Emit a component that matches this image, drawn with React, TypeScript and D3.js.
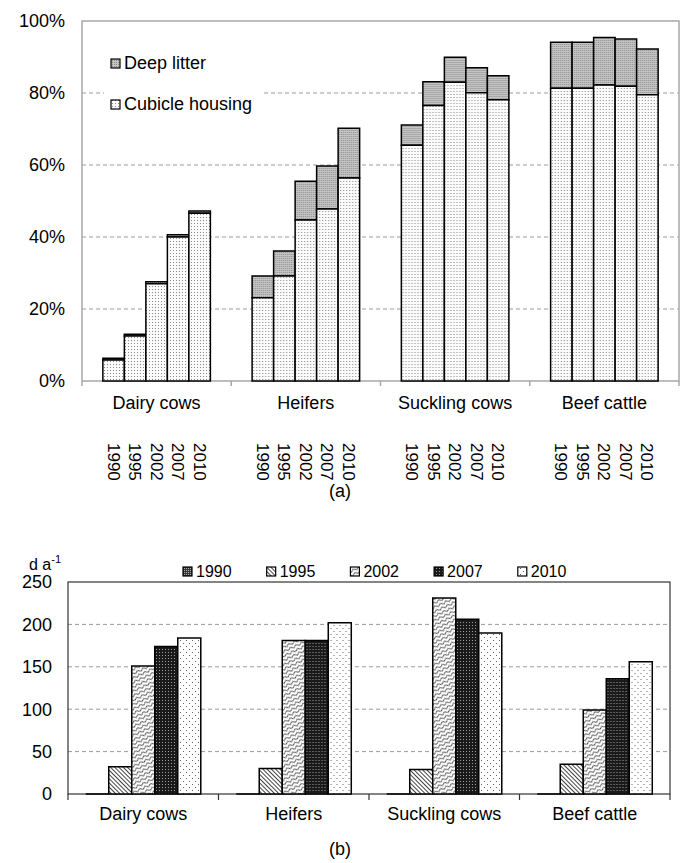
import { useEffect, useRef } from 'react';
import * as d3 from 'd3';

// categories and years shared by both panels
const categories = ['Dairy cows', 'Heifers', 'Suckling cows', 'Beef cattle'];
const years = ['1990', '1995', '2002', '2007', '2010'];

// (a) share of animals, % (rows = categories, cols = years)
const cubicleShare = [
  [5.8, 12.5, 27.0, 40.0, 46.6],
  [23.1, 29.2, 44.7, 47.8, 56.4],
  [65.5, 76.5, 83.0, 80.1, 78.1],
  [81.3, 81.3, 82.2, 81.9, 79.5],
];
const deepLitterShare = [
  [0.5, 0.5, 0.6, 0.6, 0.6],
  [6.1, 6.9, 10.8, 11.9, 13.8],
  [5.6, 6.6, 6.9, 6.9, 6.7],
  [12.8, 12.8, 13.2, 13.1, 12.7],
];
const pctTicks = [0, 20, 40, 60, 80, 100];

// (b) days per year
const grazingDays = [
  [0, 32, 151, 174, 184],
  [0, 30, 181, 181, 202],
  [0, 29, 231, 206, 190],
  [0, 35, 99, 136, 156],
];
const dayTicks = [0, 50, 100, 150, 200, 250];

const FONT = '"Liberation Sans", Arial, sans-serif';
const yearFill = ['url(#p1990)', 'url(#p1995)', 'url(#p2002)', 'url(#p2007)', 'url(#p2010)'];

function barPath(x: number, y0: number, y1: number, w: number) {
  // path instead of rect so a zero-height bar still shows its outline
  return `M${x},${y0}V${y1}H${x + w}V${y0}Z`;
}

export default function App() {
  const svgRef = useRef<SVGSVGElement>(null);

  useEffect(() => {
    if (!svgRef.current) return;
    const svg = d3.select(svgRef.current);
    svg.selectAll('*').remove();

    // ---------- patterns ----------
    const defs = svg.append('defs');
    const pat = (id: string, w: number, h: number) =>
      defs.append('pattern').attr('id', id).attr('patternUnits', 'userSpaceOnUse')
        .attr('width', w).attr('height', h);

    const cub = pat('cubicle', 3, 3);
    cub.append('rect').attr('width', 3).attr('height', 3).attr('fill', '#fbfbfb');
    cub.append('rect').attr('x', 1).attr('y', 1).attr('width', 1).attr('height', 1).attr('fill', '#8a8a8a');

    const deep = pat('deep', 2, 2);
    deep.append('rect').attr('width', 2).attr('height', 2).attr('fill', '#c4c4c4');
    deep.append('rect').attr('width', 1).attr('height', 1).attr('fill', '#8c8c8c');

    const p90 = pat('p1990', 2, 2);
    p90.append('rect').attr('width', 2).attr('height', 2).attr('fill', '#3a3a3a');
    p90.append('rect').attr('width', 1).attr('height', 1).attr('fill', '#aaa');

    // back-slash hatching
    const p95 = pat('p1995', 3, 3).attr('patternTransform', 'rotate(-45)');
    p95.append('rect').attr('width', 3).attr('height', 3).attr('fill', '#fff');
    p95.append('line').attr('x1', 0).attr('y1', 0).attr('x2', 0).attr('y2', 3)
      .attr('stroke', '#444').attr('stroke-width', 2);

    // wavy scales
    const p02 = pat('p2002', 6, 4).attr('patternTransform', 'rotate(-25)');
    p02.append('rect').attr('width', 6).attr('height', 4).attr('fill', '#fff');
    p02.append('path').attr('d', 'M-1,3 Q1.5,-0.5 3,2 T7,1.5')
      .attr('fill', 'none').attr('stroke', '#222').attr('stroke-width', 0.9);

    const p07 = pat('p2007', 3, 3);
    p07.append('rect').attr('width', 3).attr('height', 3).attr('fill', '#1a1a1a');
    p07.append('rect').attr('x', 1).attr('y', 1).attr('width', 1).attr('height', 1).attr('fill', '#9a9a9a');

    const p10 = pat('p2010', 6, 6);
    p10.append('rect').attr('width', 6).attr('height', 6).attr('fill', '#fff');
    p10.append('rect').attr('x', 1).attr('y', 1).attr('width', 1).attr('height', 1).attr('fill', '#666');
    p10.append('rect').attr('x', 4).attr('y', 4).attr('width', 1).attr('height', 1).attr('fill', '#666');

    // ---------- panel (a) ----------
    const xA = d3.scaleBand<string>().domain(categories).range([82, 679]);
    const xAin = d3.scaleBand<string>().domain(years).range([0, xA.bandwidth()]).paddingOuter(0.97);
    const yA = d3.scaleLinear().domain([0, 100]).range([381, 21]);

    const gA = svg.append('g');
    gA.selectAll('line.grid').data(pctTicks.filter(t => t > 0 && t < 100)).join('line')
      .attr('x1', 82).attr('x2', 679).attr('y1', d => yA(d)).attr('y2', d => yA(d))
      .attr('stroke', '#9a9a9a').attr('stroke-dasharray', '4,3');

    // frame
    gA.append('path')
      .attr('d', `M82,${yA(0)}V${yA(100)}H679V${yA(0)}H82`)
      .attr('fill', 'none').attr('stroke', '#a8a8a8').attr('stroke-width', 1.5);
    gA.selectAll('line.tick').data(d3.range(categories.length + 1)).join('line')
      .attr('x1', i => 82 + i * xA.step()).attr('x2', i => 82 + i * xA.step())
      .attr('y1', yA(0)).attr('y2', yA(0) + 5)
      .attr('stroke', '#a8a8a8').attr('stroke-width', 1.5);

    gA.selectAll('text.ytick').data(pctTicks).join('text')
      .attr('x', 65).attr('y', d => yA(d)).attr('dy', '0.35em')
      .attr('text-anchor', 'end').attr('font-size', 18).attr('font-family', FONT)
      .text(d => `${d}%`);

    categories.forEach((cat, ci) => {
      const g = gA.append('g').attr('transform', `translate(${xA(cat)},0)`);
      years.forEach((yr, yi) => {
        const x = xAin(yr)!;
        const w = xAin.bandwidth();
        const c = cubicleShare[ci][yi];
        const d = deepLitterShare[ci][yi];
        g.append('path').attr('d', barPath(x, yA(c), yA(c + d), w))
          .attr('fill', 'url(#deep)').attr('stroke', '#000').attr('stroke-width', 1.5);
        g.append('path').attr('d', barPath(x, yA(0), yA(c), w))
          .attr('fill', 'url(#cubicle)').attr('stroke', '#000').attr('stroke-width', 1.5);
        g.append('text')
          .attr('transform', `translate(${x + w / 2 - 6},443) rotate(90)`)
          .attr('font-size', 17).attr('font-family', FONT)
          .text(yr);
      });
      gA.append('text')
        .attr('x', xA(cat)! + xA.bandwidth() / 2).attr('y', 409)
        .attr('text-anchor', 'middle').attr('font-size', 18).attr('font-family', FONT)
        .text(cat);
    });

    // legend (a)
    gA.append('rect').attr('x', 104).attr('y', 45).attr('width', 158).attr('height', 72).attr('fill', '#fff');
    [['deep', 'Deep litter', 59], ['cubicle', 'Cubicle housing', 100]].forEach(([id, label, y]) => {
      gA.append('rect').attr('x', 111).attr('y', y as number).attr('width', 9).attr('height', 9)
        .attr('fill', `url(#${id})`).attr('stroke', '#000').attr('stroke-width', 1.2);
      gA.append('text').attr('x', 124).attr('y', (y as number) + 10)
        .attr('font-size', 18).attr('font-family', FONT).text(label as string);
    });

    svg.append('text').attr('x', 340).attr('y', 497).attr('text-anchor', 'middle')
      .attr('font-size', 18).attr('font-family', FONT).text('(a)');

    // ---------- panel (b) ----------
    const xB = d3.scaleBand<string>().domain(categories).range([68, 670]);
    const xBin = d3.scaleBand<string>().domain(years).range([0, xB.bandwidth()]).paddingOuter(0.77);
    const yB = d3.scaleLinear().domain([0, 250]).range([794, 582]);

    const gB = svg.append('g');
    gB.selectAll('line.grid').data(dayTicks.filter(t => t > 0 && t < 250)).join('line')
      .attr('x1', 68).attr('x2', 670).attr('y1', d => yB(d)).attr('y2', d => yB(d))
      .attr('stroke', '#9a9a9a').attr('stroke-dasharray', '4,3');

    gB.append('rect').attr('x', 68).attr('y', yB(250)).attr('width', 602).attr('height', yB(0) - yB(250))
      .attr('fill', 'none').attr('stroke', '#333').attr('stroke-width', 1.2);
    gB.selectAll('line.tick').data(d3.range(categories.length + 1)).join('line')
      .attr('x1', i => 68 + i * xB.step()).attr('x2', i => 68 + i * xB.step())
      .attr('y1', yB(0)).attr('y2', yB(0) + 6)
      .attr('stroke', '#333').attr('stroke-width', 1.2);

    gB.selectAll('text.ytick').data(dayTicks).join('text')
      .attr('x', 52).attr('y', d => yB(d)).attr('dy', '0.35em')
      .attr('text-anchor', 'end').attr('font-size', 18).attr('font-family', FONT)
      .text(d => d);

    const unit = gB.append('text').attr('x', 29).attr('y', 570)
      .attr('font-size', 16).attr('font-family', FONT);
    unit.append('tspan').text('d a');
    unit.append('tspan').attr('font-size', 11).attr('dy', -7).text('-1');

    categories.forEach((cat, ci) => {
      const g = gB.append('g').attr('transform', `translate(${xB(cat)},0)`);
      years.forEach((yr, yi) => {
        const x = xBin(yr)!;
        g.append('path').attr('d', barPath(x, yB(0), yB(grazingDays[ci][yi]), xBin.bandwidth()))
          .attr('fill', yearFill[yi]).attr('stroke', '#000').attr('stroke-width', 1.5);
      });
      gB.append('text')
        .attr('x', xB(cat)! + xB.bandwidth() / 2).attr('y', 820)
        .attr('text-anchor', 'middle').attr('font-size', 18).attr('font-family', FONT)
        .text(cat);
    });

    // legend (b)
    years.forEach((yr, yi) => {
      const lx = 183 + yi * 83.7;
      gB.append('rect').attr('x', lx).attr('y', 567).attr('width', 9).attr('height', 9)
        .attr('fill', yearFill[yi]).attr('stroke', '#000').attr('stroke-width', 1.2);
      gB.append('text').attr('x', lx + 13).attr('y', 577)
        .attr('font-size', 16).attr('font-family', FONT).text(yr);
    });

    svg.append('text').attr('x', 340).attr('y', 855).attr('text-anchor', 'middle')
      .attr('font-size', 18).attr('font-family', FONT).text('(b)');
  }, []);

  return (
    <div style={{ position: 'absolute', left: 0, top: 0 }}>
      <svg ref={svgRef} width={680} height={863} style={{ display: 'block', background: '#fff' }} />
    </div>
  );
}
